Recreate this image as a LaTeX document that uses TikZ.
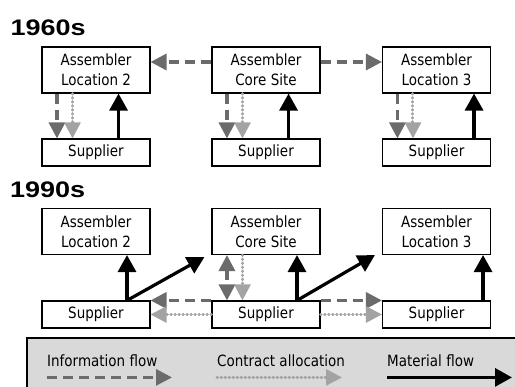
\documentclass[tikz,border=0pt]{standalone}
\usepackage{fontspec}
\setmainfont{DejaVu Sans}[FakeStretch=0.87]
\newfontfamily\headfont{Liberation Sans}[FakeStretch=1.2]
\usetikzlibrary{arrows.meta}
\definecolor{infogray}{gray}{0.42}
\definecolor{contractgray}{gray}{0.64}
\definecolor{legendgray}{gray}{0.85}
\begin{document}
\begin{tikzpicture}[x=1pt,y=-1pt]
	\tikzset{box/.style={draw,line width=1.1pt,minimum width=108pt,minimum height=46pt,inner sep=0pt,align=center,font=\fontsize{15.5}{20}\selectfont}}
	\tikzset{sup/.style={box,minimum height=27pt}}
	\tikzset{head/.style={anchor=base west,inner sep=0pt,font=\headfont\bfseries\fontsize{22.5}{26}\selectfont}}
	\tikzset{info/.style={draw=infogray,line width=3.2pt,dash pattern=on 10pt off 6pt,-{Triangle[length=16pt,width=16pt]}}}
	\tikzset{contract/.style={draw=contractgray,line width=3pt,line cap=round,dash pattern=on 0.6pt off 3.4pt,-{Triangle[length=16pt,width=16pt]}}}
	\tikzset{material/.style={draw=black,line width=3.2pt,-{Triangle[length=17pt,width=18pt]}}}
	\useasboundingbox(0,0)rectangle(515,387);
	\clip(0,0)rectangle(515,387);
	% 1960s
	\node[head](h60)at(10.5,36){1960s};
	\node[box](A2o)at(96,70){Assembler\\Location 2};
	\node[box](Co)at(266,70){Assembler\\Core Site};
	\node[box](A3o)at(436.5,70){Assembler\\Location 3};
	\node[sup](S2o)at(96,152.5){Supplier};
	\node[sup](S1o)at(266,152.5){Supplier};
	\node[sup](S3o)at(436.5,152.5){Supplier};
	\draw[info]([yshift=8pt]Co.west)--([yshift=8pt]A2o.east);
	\draw[info]([yshift=8pt]Co.east)--([yshift=8pt]A3o.west);
	\foreach \a/\s/\m in{A2o/S2o/32,Co/S1o/32,A3o/S3o/17}{
		\draw[info]([xshift=15.5pt]\a.south west)--([xshift=15.5pt]\s.north west);
		\draw[contract]([xshift=31pt]\a.south west)--([xshift=31pt]\s.north west);
		\draw[material]([xshift=-\m pt]\s.north east)--([xshift=-\m pt]\a.south east);
	}
	% 1990s
	\node[head](h90)at(10,198){1990s};
	\node[box](A2n)at(96,231.5){Assembler\\Location 2};
	\node[box](Cn)at(266,231.5){Assembler\\Core Site};
	\node[box](A3n)at(436.5,231.5){Assembler\\Location 3};
	\node[sup](S2n)at(96,314.5){Supplier};
	\node[sup](Sn)at(266,314.5){Supplier};
	\node[sup](S3n)at(436.5,314.5){Supplier};
	\draw[info,{Triangle[length=16pt,width=16pt]}-{Triangle[length=16pt,width=16pt]}]([xshift=15.5pt]Cn.south west)--([xshift=15.5pt]Sn.north west);
	\draw[contract]([xshift=31pt]Cn.south west)--([xshift=31pt]Sn.north west);
	\draw[info](Sn.north west)--(S2n.north east);
	\draw[info](Sn.north east)--(S3n.north west);
	\draw[contract](Sn.west)--(S2n.east);
	\draw[contract](Sn.east)--(S3n.west);
	\draw[material]([xshift=31pt]S2n.north)--([xshift=31pt]A2n.south);
	\draw[material]([xshift=31pt]S2n.north)--([xshift=-7pt,yshift=-2pt]Cn.south west);
	\draw[material]([xshift=31pt]Sn.north)--([xshift=31pt]Cn.south);
	\draw[material]([xshift=31pt]Sn.north)--([xshift=-7pt]A3n.south west);
	\draw[material]([xshift=-8pt]S3n.north east)--([xshift=-8pt]A3n.south east);
	% legend
	\draw[line width=2pt,fill=legendgray](27,338)rectangle(540,400);
	\foreach \st/\t/\x in{info/Information flow/47,contract/Contract allocation/217,material/Material flow/387}{
		\node[anchor=base west,inner sep=0pt,font=\fontsize{15.5}{20}\selectfont](l\st)at(\x,367){\t};
		\draw[\st]([yshift=-10pt]l\st.south west)--++(125,0);
	}
\end{tikzpicture}
\end{document}
